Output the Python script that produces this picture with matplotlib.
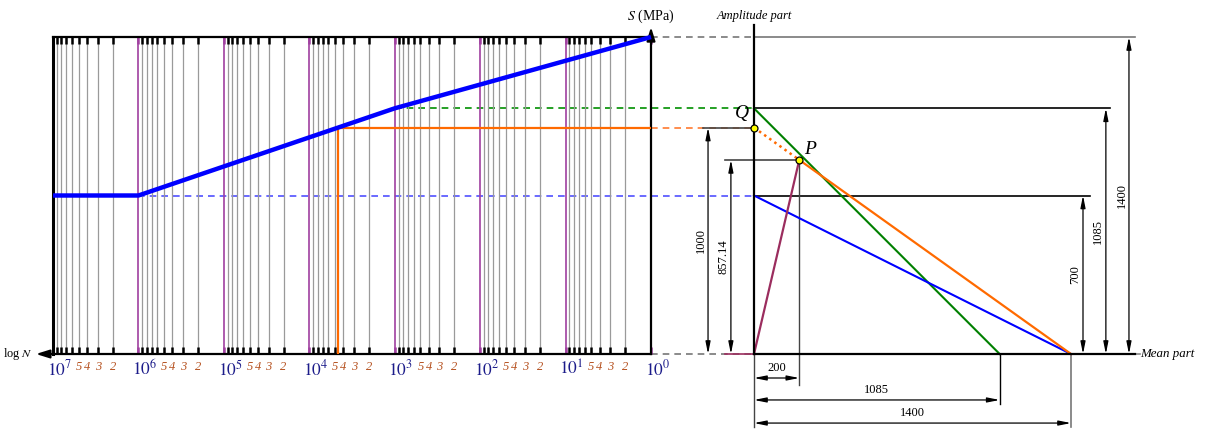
import numpy as np
import matplotlib
matplotlib.use('Agg')
import matplotlib.pyplot as plt

plt.rcParams['font.family'] = ['Liberation Serif', 'DejaVu Serif']
plt.rcParams['mathtext.fontset'] = 'stix'

# ---------------- data ----------------
sn_N = [1e0, 1e3, 1e6, 1e7]          # S-N curve nodes (cycles)
sn_S = [1400, 1085, 700, 700]        # S-N curve stresses (MPa)
decades = [0, 1, 2, 3, 4, 5, 6, 7]
minor_mult = [2, 3, 4, 5, 6, 7, 8, 9]
minor_labels = [2, 3, 4, 5]
S_top = 1400
S_1e3 = 1085
S_e = 700
S_target = 1000
N_target = 4600

# Haigh diagram (mean, amplitude)
green_x = [0, 1085]
green_y = [1085, 0]
blue_x = [0, 1400]
blue_y = [700, 0]
Q_pt = (0, 1000)
P_pt = (200, 857.14)
orange_end = (1400, 0)

vdims = [1000, 857.14, 1085, 700, 1400]
hdims = [200, 1085, 1400]

# ---------------- layout ----------------
W, H = 1207, 429
fig = plt.figure(figsize=(W / 100, H / 100), dpi=100)
s = 317 / 1400.0
ox, oy = 754, 354
axB = fig.add_axes([0, 0, 1, 1])
axB.set_xlim(-ox / s, (W - ox) / s)
axB.set_ylim(-(H - oy) / s, oy / s)
axB.axis('off')

axL = fig.add_axes([53 / W, (H - 354) / H, 598 / W, 317 / H])
axL.patch.set_alpha(0)
axL.set_xscale('log')
axL.set_xlim(1e7, 1e0)
axL.set_ylim(0, 1400)

major = [10.0 ** d for d in decades]
minor = [k * 10.0 ** d for d in decades[:-1] for k in minor_mult]
axL.set_xticks(major)
axL.set_xticks(minor, minor=True)
axL.set_yticks([])
axL.tick_params(which='both', labelbottom=False, labelleft=False)
axL.tick_params(which='minor', direction='in', top=True, bottom=True,
                length=5, width=1.8, color='k')
axL.tick_params(which='major', direction='in', top=True, bottom=True,
                length=5, width=1.8, color='#a040a0')
axL.grid(True, which='minor', axis='x', color='#9a9a9a', lw=0.9)
axL.grid(True, which='major', axis='x', color='#a040a0', lw=1.2)
for side, lw in [('left', 2.2), ('right', 1.6), ('top', 1.6), ('bottom', 1.6)]:
    axL.spines[side].set_linewidth(lw)
    axL.spines[side].set_color('k')

# S-N curve
axL.plot(sn_N, sn_S, color='#0000ff', lw=3.2, solid_capstyle='butt',
         zorder=6, clip_on=False)
# orange construction
axL.plot([N_target, N_target, 1], [0, S_target, S_target],
         color='#ff6a00', lw=1.6, zorder=5)

# axis arrows
axL.annotate('', xy=(1, 1444), xytext=(1, 1380), annotation_clip=False,
             arrowprops=dict(arrowstyle='-|>,head_length=0.8,head_width=0.25',
                             color='k', lw=1.5, shrinkA=0, shrinkB=0,
                             mutation_scale=10))
axL.annotate('', xy=(10 ** 7.2, 0), xytext=(1e7, 0), annotation_clip=False,
             arrowprops=dict(arrowstyle='-|>,head_length=0.8,head_width=0.25',
                             color='k', lw=1.5, shrinkA=0, shrinkB=0,
                             mutation_scale=10))
axL.text(1, 1493, r'$S$ (MPa)', ha='center', va='center', fontsize=10)
axL.text(10 ** 7.24, 0, r'log $N$', ha='right', va='center', fontsize=8.8)

# tick labels
for d in decades:
    axL.annotate(r'$10^{%d}$' % d, xy=(10.0 ** d, 0),
                 xycoords=('data', 'axes fraction'), xytext=(-4.5, -11),
                 textcoords='offset points', ha='left', va='center',
                 fontsize=12.5, color='#1c1c8a')
for d in decades[:-1]:
    for k in minor_labels:
        axL.annotate(str(k), xy=(k * 10.0 ** d, 0),
                     xycoords=('data', 'axes fraction'), xytext=(0, -9.5),
                     textcoords='offset points', ha='center', va='center',
                     fontsize=9, style='italic', color='#b5501e')


def L2B(N, S):
    return axB.transData.inverted().transform(axL.transData.transform((N, S)))


# connectors (big axes)
x_sn = L2B(1, 0)[0]
axB.plot([x_sn, 0], [S_top, S_top], color='#777777', lw=1.2, dashes=(4, 3))
axB.plot([L2B(1e3, S_1e3)[0], 0], [S_1e3, S_1e3], color='#009000', lw=1.2, dashes=(4, 3))
axB.plot([L2B(1e6, S_e)[0], 0], [S_e, S_e], color='#5050ff', lw=1.2, dashes=(4, 3))
axB.plot([x_sn, 0], [S_target, S_target], color='#ff7a30', lw=1.2, dashes=(4, 3))
axB.plot([x_sn, 0], [0, 0], color='#777777', lw=1.2, dashes=(4, 3))

# Haigh axes
axB.plot([0, 0], [0, 1453], color='k', lw=1.6, zorder=4)
axB.plot([0, 1683], [0, 0], color='k', lw=1.6, zorder=4)
axB.plot([1683, 1705], [0, 0], color='#888888', lw=1.2)
axB.text(0, 1494, 'Amplitude part', ha='center', va='center', fontsize=9,
         style='italic')
axB.text(1705, 0, 'Mean part', ha='left', va='center', fontsize=9.3,
         style='italic')

# extension lines
ext_c = '#444444'
axB.plot([0, 1683], [1400, 1400], color='#777777', lw=1.2)
axB.plot([0, 1572], [1085, 1085], color='k', lw=1.2)
axB.plot([0, 1484], [700, 700], color='k', lw=1.2)
axB.plot([-225, 0], [1000, 1000], color=ext_c, lw=1.2, zorder=5)
axB.plot([-128, P_pt[0]], [P_pt[1], P_pt[1]], color=ext_c, lw=1.2)
axB.plot([-128, 0], [0, 0], color='#9b2d5e', lw=1.2)
axB.plot([P_pt[0], P_pt[0]], [P_pt[1], -137], color=ext_c, lw=1.0)
axB.plot([1085, 1085], [0, -221], color='k', lw=1.0)
axB.plot([1400, 1400], [0, -322], color='#777777', lw=1.2)
axB.plot([0, 0], [0, -322], color=ext_c, lw=1.0)

# Haigh lines
axB.plot(green_x, green_y, color='#008000', lw=1.5)
axB.plot(blue_x, blue_y, color='#0000ff', lw=1.5)
axB.plot([P_pt[0], orange_end[0]], [P_pt[1], orange_end[1]],
         color='#ff6a00', lw=1.6)
axB.plot([Q_pt[0], P_pt[0]], [Q_pt[1], P_pt[1]], color='#ff6a00', lw=1.8,
         linestyle=(0, (1, 1.5)))
axB.plot([0, P_pt[0]], [0, P_pt[1]], color='#9b2d5e', lw=1.6)
axB.plot([Q_pt[0], P_pt[0]], [Q_pt[1], P_pt[1]], 'o', ms=5,
         mfc='#ffff00', mec='k', mew=0.9, zorder=8)
axB.text(-51, 1060, 'Q', fontsize=14, style='italic', ha='center', va='center')
axB.text(249, 903, 'P', fontsize=14, style='italic', ha='center', va='center')

# dimensions
arw = dict(arrowstyle='<|-|>,head_length=0.9,head_width=0.18', color='k',
           lw=0.9, shrinkA=0, shrinkB=0, mutation_scale=8)
vdim_x = [-203, -102, 1554, 1453, 1656]
for val, x in zip(vdims, vdim_x):
    axB.annotate('', xy=(x, val), xytext=(x, 0), arrowprops=arw)
    axB.text(x - 33, val / 2, ('%g' % val), rotation=90, ha='center',
             va='center', fontsize=9)
hdim_y = [-106, -203, -305]
for val, y in zip(hdims, hdim_y):
    axB.annotate('', xy=(val, y), xytext=(0, y), arrowprops=arw)
    axB.text(val / 2, y + 45, ('%g' % val), ha='center', va='center',
             fontsize=9)

fig.savefig('out.png', dpi=100, facecolor='white')
